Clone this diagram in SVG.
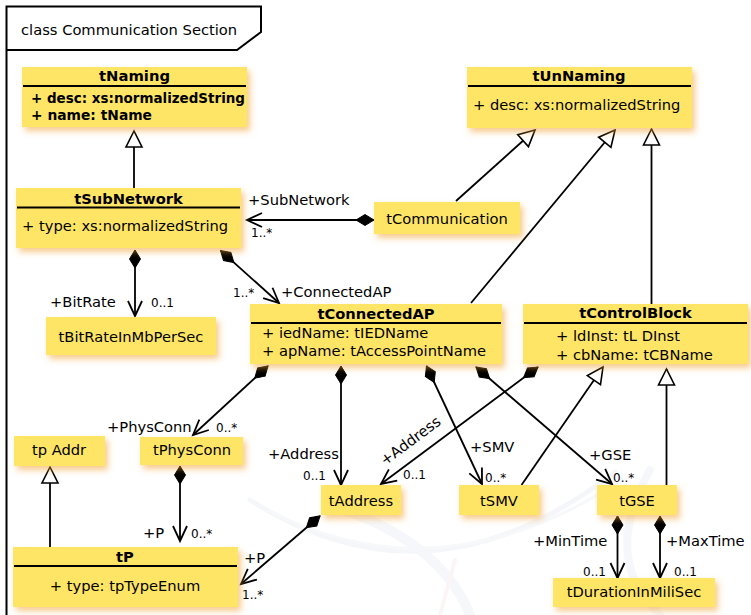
<svg xmlns="http://www.w3.org/2000/svg" width="751" height="615" viewBox="0 0 751 615">
  <style>
    .box { fill: #FFE566; filter: url(#shadow); }
    .sep { stroke: #000; stroke-width: 2; }
    .t { font-family: "DejaVu Sans", Verdana, sans-serif; font-size: 14.7px; fill: #000; }
    .b { font-weight: bold; }
    .m { font-family: "DejaVu Sans", Verdana, sans-serif; font-size: 12px; fill: #000; }
    .mid { text-anchor: middle; }
    .edge { fill: none; stroke: #000; stroke-width: 1.8; }
    .assoc { marker-start: url(#diamond); marker-end: url(#open); }
    .gen { marker-end: url(#hollow); }
    .wm { fill: none; stroke-linecap: round; }
  </style>
  <defs>
    <filter id="shadow" x="-10%" y="-20%" width="130%" height="160%">
      <feDropShadow dx="3" dy="4" stdDeviation="3" flood-color="#F0A030" flood-opacity="0.55"/>
    </filter>
    <marker id="open" markerUnits="userSpaceOnUse" markerWidth="20" markerHeight="20" orient="auto" overflow="visible" refX="0" refY="0">
      <path d="M-15,-7 L0,0 L-15,7" fill="none" stroke="#000" stroke-width="1.8"/>
    </marker>
    <marker id="diamond" markerUnits="userSpaceOnUse" markerWidth="20" markerHeight="20" orient="auto" overflow="visible" refX="0" refY="0">
      <path d="M0,0 L9,-5.5 L18,0 L9,5.5 Z" fill="#000" stroke="#000" stroke-width="1"/>
    </marker>
    <marker id="hollow" markerUnits="userSpaceOnUse" markerWidth="20" markerHeight="20" orient="auto" overflow="visible" refX="0" refY="0">
      <path d="M0,0 L-16,-8 L-16,8 Z" fill="#fff" stroke="#000" stroke-width="1.6"/>
    </marker>
  </defs>

  <rect x="0" y="0" width="751" height="615" fill="#fff"/>

  <!-- faint background logo swooshes -->
  <g id="watermark" class="wm" opacity="0.55">
    <path d="M250,500 Q430,615 615,472" stroke="#EDF0F5" stroke-width="5"/>
    <path d="M268,510 Q440,600 625,478" stroke="#F1F3F7" stroke-width="3"/>
    <path d="M330,505 Q440,540 470,615" stroke="#EEF1F6" stroke-width="10"/>
    <path d="M650,470 Q600,560 660,615" stroke="#F0F2F6" stroke-width="8"/>
    <path d="M455,560 L440,615" stroke="#FBEDEE" stroke-width="4"/>
  </g>

  <!-- diagram frame -->
  <g id="frame" fill="none" stroke="#000" stroke-width="2">
    <path d="M6.5,615 L6.5,6.5 L261,6.5 L261,32 L237,50 L6.5,50"/>
    <text class="t" x="21" y="35" stroke="none">class Communication Section</text>
  </g>

  <!-- connectors -->
  <g id="connectors">
    <!-- compositions -->
    <path class="edge assoc" d="M374,220 L247,220"/>
    <path class="edge assoc" d="M135,250 L135,316"/>
    <path class="edge assoc" d="M220.5,250.5 L279,303"/>
    <path class="edge assoc" d="M268,366 L193,435"/>
    <path class="edge assoc" d="M341,366 L341,485"/>
    <path class="edge assoc" d="M538,367 L381,484"/>
    <path class="edge assoc" d="M426.5,366 L482,484"/>
    <path class="edge assoc" d="M476,367 L612,484"/>
    <path class="edge assoc" d="M180,466 L180,541"/>
    <path class="edge assoc" d="M320,516 L241,584"/>
    <path class="edge assoc" d="M617.5,516 L617.5,578"/>
    <path class="edge assoc" d="M660,516 L660,578"/>
    <!-- generalizations -->
    <path class="edge gen" d="M134,188 L134,131"/>
    <path class="edge gen" d="M456,201 L535,130"/>
    <path class="edge gen" d="M471,303 L615,130"/>
    <path class="edge gen" d="M651.5,304 L651.5,129"/>
    <path class="edge gen" d="M50,547 L50,467"/>
    <path class="edge gen" d="M521.5,485 L603,367"/>
    <path class="edge gen" d="M666.5,485 L666.5,369"/>

    <!-- role names and multiplicities -->
    <text class="t" x="248" y="205">+SubNetwork</text>
    <text class="m" x="251" y="237">1..*</text>
    <text class="t" x="50" y="307">+BitRate</text>
    <text class="m" x="151" y="307">0..1</text>
    <text class="m" x="233" y="297">1..*</text>
    <text class="t" x="281" y="297">+ConnectedAP</text>
    <text class="t" x="107" y="432">+PhysConn</text>
    <text class="m" x="216" y="432">0..*</text>
    <text class="t" x="268" y="459">+Address</text>
    <text class="m" x="303" y="480">0..1</text>
    <text class="t" x="385" y="466" transform="rotate(-36.7 385 466)">+Address</text>
    <text class="m" x="403" y="479">0..1</text>
    <text class="t" x="470" y="452">+SMV</text>
    <text class="m" x="485" y="482">0..*</text>
    <text class="t" x="589" y="460">+GSE</text>
    <text class="m" x="613" y="482">0..*</text>
    <text class="t" x="143" y="538">+P</text>
    <text class="m" x="191" y="538">0..*</text>
    <text class="t" x="244" y="563">+P</text>
    <text class="m" x="242" y="599">1..*</text>
    <text class="t" x="533" y="546">+MinTime</text>
    <text class="t" x="666" y="546">+MaxTime</text>
    <text class="m" x="583" y="576">0..1</text>
    <text class="m" x="674" y="576">0..1</text>
  </g>

  <!-- classes -->
  <g id="tNaming">
    <rect class="box" x="22" y="67" width="225" height="60"/>
    <text class="t b mid" x="134.5" y="81" textLength="71" lengthAdjust="spacingAndGlyphs">tNaming</text>
    <line class="sep" x1="23" y1="86" x2="246" y2="86"/>
    <text class="t b" x="31" y="103" textLength="214" lengthAdjust="spacingAndGlyphs">+ desc: xs:normalizedString</text>
    <text class="t b" x="31" y="120" textLength="121" lengthAdjust="spacingAndGlyphs">+ name: tName</text>
  </g>

  <g id="tUnNaming">
    <rect class="box" x="467" y="67" width="225" height="61"/>
    <text class="t b mid" x="579" y="81">tUnNaming</text>
    <line class="sep" x1="468" y1="86" x2="691" y2="86"/>
    <text class="t" x="473" y="110">+ desc: xs:normalizedString</text>
  </g>

  <g id="tSubNetwork">
    <rect class="box" x="16" y="188" width="225" height="60"/>
    <text class="t b mid" x="128.5" y="204">tSubNetwork</text>
    <line class="sep" x1="17" y1="207.5" x2="240" y2="207.5"/>
    <text class="t" x="22" y="231">+ type: xs:normalizedString</text>
  </g>

  <g id="tCommunication">
    <rect class="box" x="374" y="202" width="146" height="32"/>
    <text class="t mid" x="447" y="224">tCommunication</text>
  </g>

  <g id="tBitRateInMbPerSec">
    <rect class="box" x="46" y="317" width="170" height="38"/>
    <text class="t mid" x="131" y="342">tBitRateInMbPerSec</text>
  </g>

  <g id="tConnectedAP">
    <rect class="box" x="250" y="304" width="252" height="60"/>
    <text class="t b mid" x="376" y="319">tConnectedAP</text>
    <line class="sep" x1="251" y1="323" x2="501" y2="323"/>
    <text class="t" x="262" y="338">+ iedName: tIEDName</text>
    <text class="t" x="262" y="356">+ apName: tAccessPointName</text>
  </g>

  <g id="tControlBlock">
    <rect class="box" x="523" y="304" width="225" height="60"/>
    <text class="t b mid" x="635.5" y="318">tControlBlock</text>
    <line class="sep" x1="524" y1="323" x2="747" y2="323"/>
    <text class="t" x="556" y="341">+ ldInst: tL DInst</text>
    <text class="t" x="556" y="360">+ cbName: tCBName</text>
  </g>

  <g id="tpAddr">
    <rect class="box" x="14" y="436" width="91" height="30"/>
    <text class="t mid" x="59" y="455">tp Addr</text>
  </g>

  <g id="tPhysConn">
    <rect class="box" x="140" y="437" width="103" height="28"/>
    <text class="t mid" x="192" y="455">tPhysConn</text>
  </g>

  <g id="tAddress">
    <rect class="box" x="321" y="485" width="80" height="30"/>
    <text class="t mid" x="361" y="506">tAddress</text>
  </g>

  <g id="tSMV">
    <rect class="box" x="459" y="485" width="80" height="30"/>
    <text class="t mid" x="499" y="506">tSMV</text>
  </g>

  <g id="tGSE">
    <rect class="box" x="597" y="485" width="80" height="30"/>
    <text class="t mid" x="637" y="506">tGSE</text>
  </g>

  <g id="tP">
    <rect class="box" x="13" y="547" width="225" height="60"/>
    <text class="t b mid" x="125" y="562">tP</text>
    <line class="sep" x1="14" y1="566" x2="237" y2="566"/>
    <text class="t mid" x="125" y="591">+ type: tpTypeEnum</text>
  </g>

  <g id="tDurationInMiliSec">
    <rect class="box" x="553" y="578" width="162" height="29"/>
    <text class="t mid" x="634" y="597">tDurationInMiliSec</text>
  </g>
</svg>
